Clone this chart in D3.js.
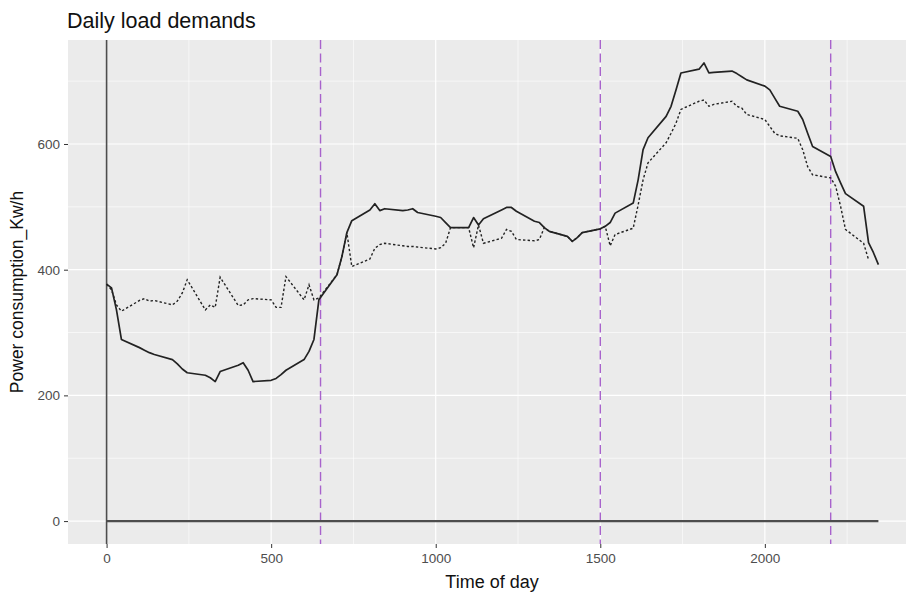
<!DOCTYPE html>
<html>
<head>
<meta charset="utf-8">
<script src="https://cdn.jsdelivr.net/npm/d3@7"></script>
<style>
  html, body { margin: 0; padding: 0; background: #ffffff; }
  svg { display: block; font-family: "Liberation Sans", Arial, sans-serif; }
</style>
</head>
<body>
<div id="chart"></div>
<script>
// ---- Data (time of day in HHMM, 15-minute steps) ----
const times = [0,15,30,45,100,115,130,145,200,215,230,245,300,315,330,345,400,415,430,445,500,515,530,545,600,615,630,645,700,715,730,745,800,815,830,845,900,915,930,945,1000,1015,1030,1045,1100,1115,1130,1145,1200,1215,1230,1245,1300,1315,1330,1345,1400,1415,1430,1445,1500,1515,1530,1545,1600,1615,1630,1645,1700,1715,1730,1745,1800,1815,1830,1845,1900,1915,1930,1945,2000,2015,2030,2045,2100,2115,2130,2145,2200,2215,2230,2245,2300,2315,2330,2345];

const solidLoad = [377,371,336,289,276,272,268,265,257,250,242,236,232,228,222,238,248,252,240,222,224,227,233,240,257,270,289,352,392,421,459,478,495,505,494,497,494,495,497,491,485,483,475,467,467,483,471,481,495,499,499,493,477,475,467,461,453,445,451,459,465,469,475,490,506,543,591,610,644,660,686,713,719,729,713,714,716,712,707,702,692,686,673,660,652,639,617,596,580,556,538,521,501,443,427,408];

const dottedTimes = times.slice(0, 94);
const dottedLoad = [377,368,344,334,351,354,350,351,344,350,363,384,336,344,340,388,343,344,352,354,352,340,340,389,352,376,352,355,392,421,459,405,417,434,440,442,438,437,437,436,433,435,442,467,467,435,471,442,450,464,461,448,446,448,467,461,453,445,451,459,465,469,438,456,466,503,543,570,602,617,633,655,668,670,660,663,668,660,657,647,639,628,617,613,609,591,564,551,546,533,501,464,442,416];

const zeroLoad = times.map(() => 0);

const cutTimes = [650, 1500, 2200];
const xTicks = [0, 500, 1000, 1500, 2000];
const xMinor = [250, 750, 1250, 1750, 2250];
const yTicks = [0, 200, 400, 600];
const yMinor = [100, 300, 500, 700];

const titleText = "Daily load demands";
const xTitle = "Time of day";
const yTitle = "Power consumption_Kw/h";

// ---- Layout ----
const W = 906, H = 596;
const P = { left: 68, top: 40, right: 917, bottom: 544 };

const svg = d3.select("#chart").append("svg").attr("width", W).attr("height", H);

const xMaxData = d3.max(times), xMinData = 0;
const xPad = (xMaxData - xMinData) * 0.05;
const yMaxData = d3.max(solidLoad), yMinData = 0;
const yPad = (yMaxData - yMinData) * 0.05;

const x = d3.scaleLinear().domain([xMinData - xPad, xMaxData + xPad]).range([P.left, P.right]);
const y = d3.scaleLinear().domain([yMinData - yPad, yMaxData + yPad]).range([P.bottom, P.top]);

// panel background
svg.append("rect").attr("x", P.left).attr("y", P.top)
  .attr("width", P.right - P.left).attr("height", P.bottom - P.top)
  .attr("fill", "#ebebeb");

const grid = svg.append("g");
grid.selectAll(".xmin").data(xMinor).enter().append("line")
  .attr("x1", d => x(d)).attr("x2", d => x(d)).attr("y1", P.top).attr("y2", P.bottom)
  .attr("stroke", "#ffffff").attr("stroke-width", 0.6);
grid.selectAll(".ymin").data(yMinor).enter().append("line")
  .attr("y1", d => y(d)).attr("y2", d => y(d)).attr("x1", P.left).attr("x2", P.right)
  .attr("stroke", "#ffffff").attr("stroke-width", 0.6);
grid.selectAll(".xmaj").data(xTicks).enter().append("line")
  .attr("x1", d => x(d)).attr("x2", d => x(d)).attr("y1", P.top).attr("y2", P.bottom)
  .attr("stroke", "#ffffff").attr("stroke-width", 1.2);
grid.selectAll(".ymaj").data(yTicks).enter().append("line")
  .attr("y1", d => y(d)).attr("y2", d => y(d)).attr("x1", P.left).attr("x2", P.right)
  .attr("stroke", "#ffffff").attr("stroke-width", 1.2);

// vertical reference line at x = 0
svg.append("line").attr("x1", x(0)).attr("x2", x(0)).attr("y1", P.top).attr("y2", P.bottom)
  .attr("stroke", "#4d4d4d").attr("stroke-width", 1.6);

// dashed purple cut lines
svg.selectAll(".cut").data(cutTimes).enter().append("line")
  .attr("x1", d => x(d)).attr("x2", d => x(d)).attr("y1", P.top).attr("y2", P.bottom)
  .attr("stroke", "#a862cc").attr("stroke-width", 1.4).attr("stroke-dasharray", "9,4.5");

const line = d3.line().x(d => x(d[0])).y(d => y(d[1]));

// zero line series
svg.append("path").datum(times.map((t, i) => [t, zeroLoad[i]]))
  .attr("d", line).attr("fill", "none").attr("stroke", "#4d4d4d").attr("stroke-width", 2.2);

// dotted series
svg.append("path").datum(dottedTimes.map((t, i) => [t, dottedLoad[i]]))
  .attr("d", line).attr("fill", "none").attr("stroke", "#222222")
  .attr("stroke-width", 1.4).attr("stroke-dasharray", "2.4,2.2");

// solid series
svg.append("path").datum(times.map((t, i) => [t, solidLoad[i]]))
  .attr("d", line).attr("fill", "none").attr("stroke", "#222222")
  .attr("stroke-width", 1.7).attr("stroke-linejoin", "round");

// axes
const xAxis = svg.append("g").attr("transform", `translate(0,${P.bottom})`)
  .call(d3.axisBottom(x).tickValues(xTicks).tickSize(4).tickPadding(5).tickFormat(d3.format("d")));
xAxis.select(".domain").remove();
xAxis.selectAll(".tick line").attr("stroke", "#333333").attr("stroke-width", 1);
xAxis.selectAll(".tick text").attr("fill", "#4d4d4d").style("font-size", "13.5px")
  .style("font-family", "Liberation Sans, Arial, sans-serif");

const yAxis = svg.append("g").attr("transform", `translate(${P.left},0)`)
  .call(d3.axisLeft(y).tickValues(yTicks).tickSize(4).tickPadding(4).tickFormat(d3.format("d")));
yAxis.select(".domain").remove();
yAxis.selectAll(".tick line").attr("stroke", "#333333").attr("stroke-width", 1);
yAxis.selectAll(".tick text").attr("fill", "#4d4d4d").style("font-size", "13.5px")
  .style("font-family", "Liberation Sans, Arial, sans-serif");

// titles
svg.append("text").attr("x", 67).attr("y", 28).text(titleText)
  .attr("fill", "#111111").style("font-size", "21.5px");
svg.append("text").attr("x", 492).attr("y", 588).attr("text-anchor", "middle")
  .text(xTitle).attr("fill", "#111111").style("font-size", "18px");
svg.append("text").attr("transform", `translate(23,${(P.top + P.bottom) / 2}) rotate(-90)`)
  .attr("text-anchor", "middle").text(yTitle).attr("fill", "#111111").style("font-size", "17.5px");
</script>
</body>
</html>
